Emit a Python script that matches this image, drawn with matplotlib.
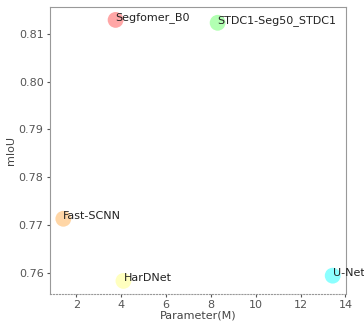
import matplotlib
matplotlib.use("Agg")
import matplotlib.pyplot as plt

# Model data
models = ['Segfomer_B0', 'STDC1-Seg50_STDC1', 'Fast-SCNN', 'HarDNet', 'U-Net']
params = [3.75, 8.3, 1.42, 4.1, 13.43]
miou = [0.8129, 0.8123, 0.7713, 0.7583, 0.7594]
colors = ['red', 'lime', 'darkorange', 'yellow', 'cyan']
alphas = [0.35, 0.3, 0.35, 0.25, 0.45]

fig = plt.figure(figsize=(3.64, 3.27), dpi=100)
ax = fig.add_axes([0.137, 0.101, 0.814, 0.878])

for name, x, y, c, a in zip(models, params, miou, colors, alphas):
    ax.scatter(x, y, s=130, color=c, alpha=a, edgecolors='none')
    ax.text(x, y, name, fontsize=8, color='#222222')

ax.set_xticks([2, 4, 6, 8, 10, 12, 14])
ax.set_yticks([0.76, 0.77, 0.78, 0.79, 0.80, 0.81])
ax.tick_params(labelsize=8, colors='#555555', length=2.5, pad=2)
ax.set_xlabel('Parameter(M)', fontsize=8, color='#444444', labelpad=0)
ax.set_ylabel('mIoU', fontsize=8, color='#444444', labelpad=2)

for side in ['left', 'right', 'top']:
    ax.spines[side].set_color('#999999')
ax.spines['bottom'].set_color('#999999')
ax.spines['bottom'].set_linestyle(':')

plt.savefig('out.png', dpi=100)
